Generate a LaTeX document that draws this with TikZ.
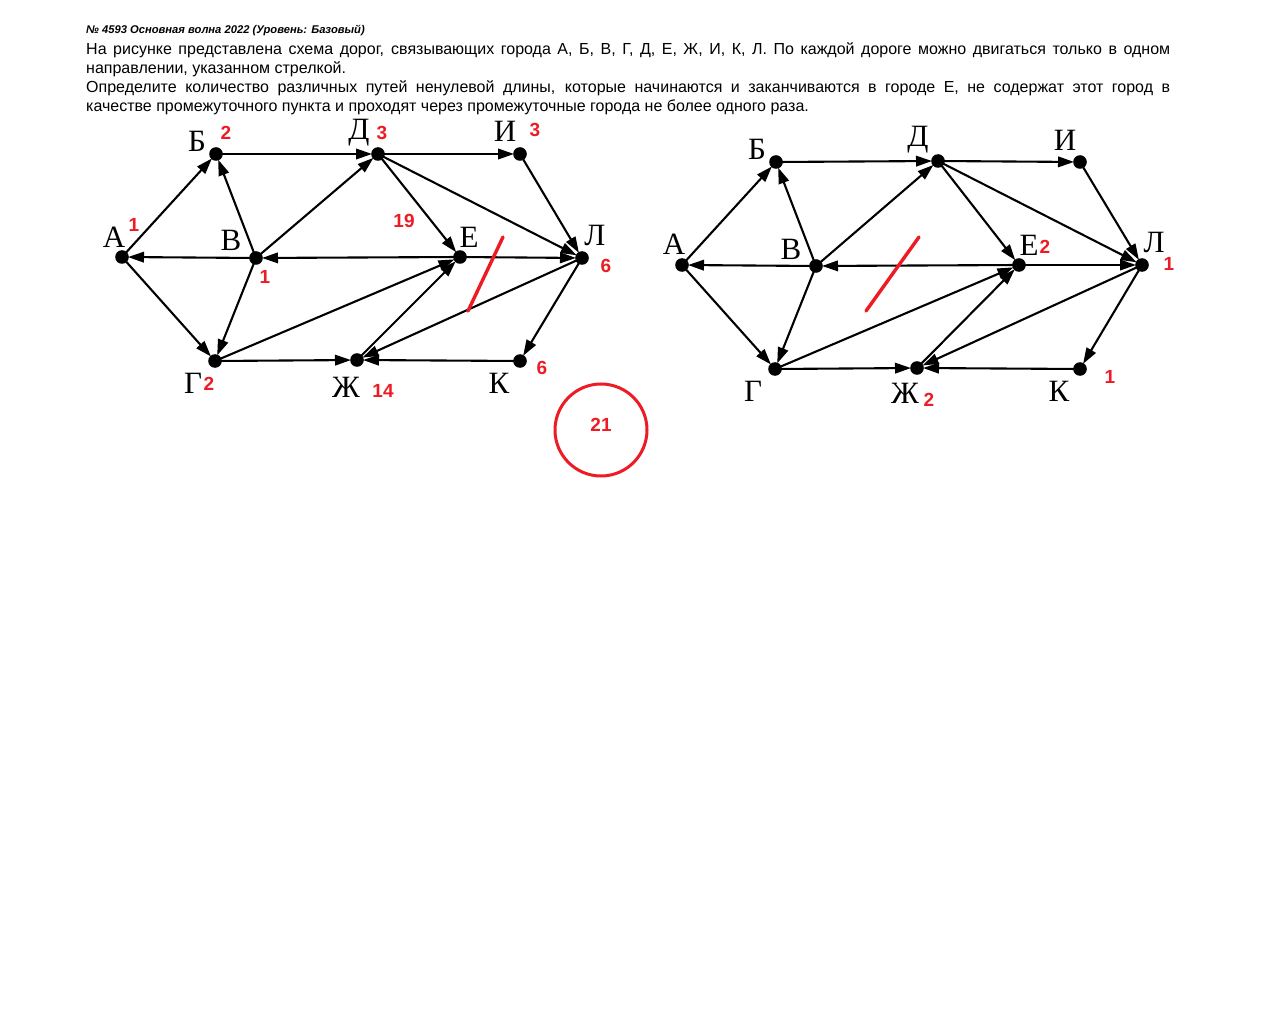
\documentclass[tikz,border=0pt]{standalone}
\usepackage{fontspec}
\setmainfont{Liberation Sans}
\newfontfamily\cityfont{Liberation Serif}
\usepackage{tkz-euclide}
\usetikzlibrary{arrows.meta}

\definecolor{markred}{RGB}{237,28,36}
\tikzset{
  road/.style={color=black,line width=2.1pt,-{Triangle[length=16pt,width=10.5pt]},shorten >=6pt},
  city/.style={font=\cityfont\fontsize{31}{31}\selectfont,inner sep=0pt},
  count/.style={font=\bfseries\fontsize{19}{19}\selectfont,text=markred,inner sep=0pt},
  cut/.style={draw=markred,line width=3.4pt,line cap=round}
}

\begin{document}
\begin{tikzpicture}[x=1pt,y=-1pt]
\fill[white] (0,0) rectangle (1280,1024);
\useasboundingbox (0,0) rectangle (1280,1024);

% task text
\node[anchor=base west,inner sep=0pt,font=\bfseries\itshape\fontsize{11.2}{14}\selectfont] (head) at (86,34)
  {№ 4593 Основная волна 2022 (Уровень: Базовый)};
\node[anchor=north west,inner sep=0pt,text width=1084pt,align=justify,
  font=\fontsize{16}{19}\selectfont] (task) at (86,42)
  {На рисунке представлена схема дорог, связывающих города А, Б, В, Г, Д, Е, Ж, И, К, Л. По каждой дороге можно двигаться только в одном\linebreak
  направлении, указанном стрелкой.\par
  Определите количество различных путей ненулевой длины, которые начинаются и заканчиваются в городе Е, не содержат этот город в\linebreak
  качестве промежуточного пункта и проходят через промежуточные города не более одного раза.};

% left scheme
\tkzDefPoint(122,257){lA}
\tkzDefPoint(216,154){lB}
\tkzDefPoint(256,258){lV}
\tkzDefPoint(215,361){lG}
\tkzDefPoint(378,154){lD}
\tkzDefPoint(520,154){lI}
\tkzDefPoint(460,257){lE}
\tkzDefPoint(582,258){lL}
\tkzDefPoint(357,360){lZh}
\tkzDefPoint(520,361){lK}

\tkzDrawSegments[road](lA,lB lA,lG lV,lA lV,lB lV,lD lV,lG lB,lD)
\tkzDrawSegments[road](lD,lI lD,lE lD,lL lI,lL lE,lV lE,lL)
\tkzDrawSegments[road](lG,lE lG,lZh lZh,lE lL,lZh lL,lK lK,lZh)

\foreach \p in {lA,lB,lV,lG,lD,lI,lE,lL,lZh,lK}
  \fill (\p) circle[radius=6.8pt];

\node[city] (lA-name) at (114,237) {А};
\node[city] (lB-name) at (197,141) {Б};
\node[city] (lV-name) at (231,240) {В};
\node[city] (lG-name) at (193,383) {Г};
\node[city] (lD-name) at (359,133) {Д};
\node[city] (lI-name) at (505,131) {И};
\node[city] (lE-name) at (469,237) {Е};
\node[city] (lL-name) at (595,236) {Л};
\node[city] (lZh-name) at (346,387) {Ж};
\node[city] (lK-name) at (499,383) {К};

\node[count] (lA-n) at (134,225) {1};
\node[count] (lB-n) at (226,133) {2};
\node[count] (lD-n) at (382,133) {3};
\node[count] (lI-n) at (535,130) {3};
\node[count] (lE-n) at (404,221) {19};
\node[count] (lV-n) at (265,277) {1};
\node[count] (lL-n) at (606,266) {6};
\node[count] (lG-n) at (209,384) {2};
\node[count] (lZh-n) at (383,391) {14};
\node[count] (lK-n) at (542,368) {6};

\draw[cut] (503,237) -- (468,311);

\node[draw=markred,line width=3pt,circle,minimum size=92pt,inner sep=0pt] (total) at (601,430) {};
\node[count] (total-n) at (601,425) {21};

% right scheme
\tkzDefPoint(682,265){rA}
\tkzDefPoint(776,162){rB}
\tkzDefPoint(816,266){rV}
\tkzDefPoint(775,369){rG}
\tkzDefPoint(938,161){rD}
\tkzDefPoint(1080,162){rI}
\tkzDefPoint(1019,265){rE}
\tkzDefPoint(1142,265){rL}
\tkzDefPoint(917,368){rZh}
\tkzDefPoint(1080,369){rK}

\tkzDrawSegments[road](rA,rB rA,rG rV,rA rV,rB rV,rD rV,rG rB,rD)
\tkzDrawSegments[road](rD,rI rD,rE rD,rL rI,rL rE,rV rE,rL)
\tkzDrawSegments[road](rG,rE rG,rZh rZh,rE rL,rZh rL,rK rK,rZh)

\foreach \p in {rA,rB,rV,rG,rD,rI,rE,rL,rZh,rK}
  \fill (\p) circle[radius=6.8pt];

\node[city] (rA-name) at (674,244) {А};
\node[city] (rB-name) at (757,149) {Б};
\node[city] (rV-name) at (791,249) {В};
\node[city] (rG-name) at (753,391) {Г};
\node[city] (rD-name) at (918,140) {Д};
\node[city] (rI-name) at (1065,140) {И};
\node[city] (rE-name) at (1029,245) {Е};
\node[city] (rL-name) at (1154,243) {Л};
\node[city] (rZh-name) at (905,393) {Ж};
\node[city] (rK-name) at (1059,391) {К};

\node[count] (rE-n) at (1045,247) {2};
\node[count] (rL-n) at (1169,264) {1};
\node[count] (rZh-n) at (929,400) {2};
\node[count] (rK-n) at (1110,377) {1};

\draw[cut] (919,237) -- (866,311);

\end{tikzpicture}
\end{document}
